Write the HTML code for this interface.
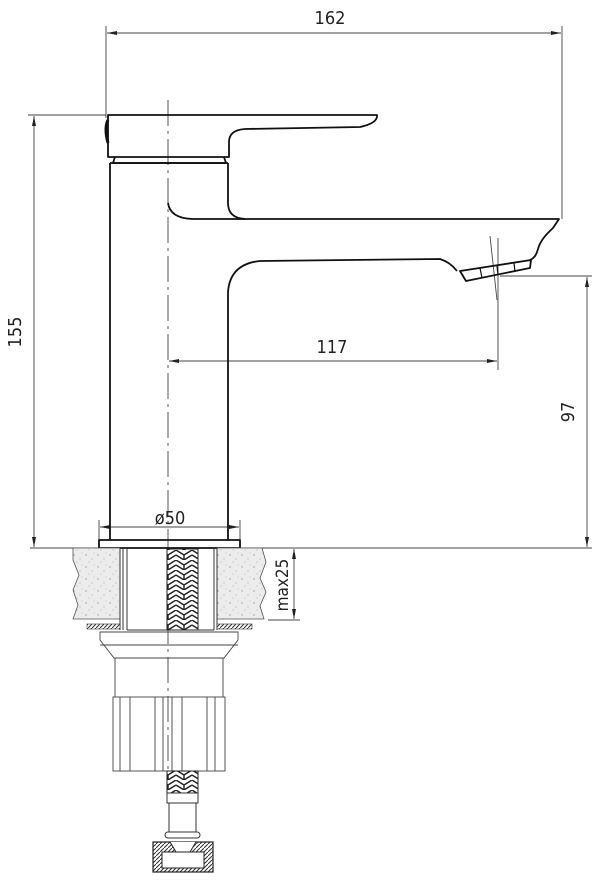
<!DOCTYPE html>
<html><head><meta charset="utf-8"><style>
html,body{margin:0;padding:0;background:#fff;}
svg{display:block;}
text{font-family:"DejaVu Sans Condensed","Liberation Sans",sans-serif;fill:#222;}
</style></head><body>
<svg width="600" height="883" viewBox="0 0 600 883" xmlns="http://www.w3.org/2000/svg">
<defs>
<pattern id="braid" width="16" height="10" patternUnits="userSpaceOnUse">
<rect width="16" height="10" fill="#fff"/>
<path d="M0,0 L8,5 L16,0 M0,5 L8,10 L16,5 M8,5 L8,10" stroke="#222" stroke-width="1.4" fill="none"/>
</pattern>
<pattern id="stone" width="12" height="12" patternUnits="userSpaceOnUse">
<rect width="12" height="12" fill="#ececec"/>
<circle cx="2" cy="3" r="0.7" fill="#999"/><circle cx="8" cy="7" r="0.6" fill="#aaa"/><circle cx="5" cy="10" r="0.5" fill="#999"/><circle cx="10" cy="1" r="0.5" fill="#aaa"/>
</pattern>
<pattern id="hatch" width="4" height="4" patternUnits="userSpaceOnUse">
<rect width="4" height="4" fill="#fff"/><path d="M0,4 L4,0" stroke="#333" stroke-width="1"/>
</pattern>
<marker id="ar" viewBox="0 0 10 6" refX="10" refY="3" markerWidth="10" markerHeight="6" orient="auto-start-reverse" markerUnits="userSpaceOnUse">
<path d="M0,1 L10,3 L0,5 Z" fill="#222"/></marker>
</defs>

<g stroke="#444" stroke-width="0.9" fill="none">
<line x1="106" y1="26" x2="106" y2="118"/><line x1="562" y1="26" x2="562" y2="219"/>
<line x1="107" y1="33" x2="561" y2="33" marker-start="url(#ar)" marker-end="url(#ar)"/>
<line x1="28" y1="115" x2="106" y2="115"/>
<line x1="34" y1="116" x2="34" y2="547" marker-start="url(#ar)" marker-end="url(#ar)"/>
<line x1="30" y1="548" x2="592" y2="548"/>
<line x1="500" y1="276" x2="592" y2="276"/>
<line x1="587" y1="277" x2="587" y2="547" marker-start="url(#ar)" marker-end="url(#ar)"/>
<line x1="498" y1="238" x2="498" y2="370"/>
<line x1="169" y1="361" x2="497" y2="361" marker-start="url(#ar)" marker-end="url(#ar)"/>
<line x1="490" y1="236" x2="497" y2="300"/>
<line x1="99" y1="520" x2="99" y2="540"/><line x1="240" y1="520" x2="240" y2="540"/>
<line x1="100" y1="527" x2="239" y2="527" marker-start="url(#ar)" marker-end="url(#ar)"/>
<line x1="268" y1="620" x2="300" y2="620"/>
<line x1="294" y1="549" x2="294" y2="619" marker-start="url(#ar)" marker-end="url(#ar)"/>
<line x1="168" y1="100" x2="168" y2="540" stroke-dasharray="26,5,3,5"/>
<line x1="168" y1="540" x2="168" y2="790" stroke-dasharray="26,5,3,5"/>
</g>

<g font-size="18">
<text x="330" y="24" text-anchor="middle">162</text>
<text x="332" y="353" text-anchor="middle">117</text>
<text x="170" y="524" text-anchor="middle">ø50</text>
<text transform="translate(21,332) rotate(-90)" text-anchor="middle">155</text>
<text transform="translate(574,412) rotate(-90)" text-anchor="middle">97</text>
<text transform="translate(288,585) rotate(-90)" text-anchor="middle" font-size="17">max25</text>
</g>

<g stroke="#111" stroke-width="1.8" fill="none" stroke-linejoin="round">
<path d="M108,115 L377,115 Q378,123 360,127 L245,129 Q229,130 229,142 L229,157 L108,157 Z"/>
<path d="M108,120 Q104,128 108,143" stroke-width="3"/>
<path d="M115,157 L113,163 L226,163 L224,157"/>
<path d="M110,163 L228,163"/>
<path d="M110,163 L110,540"/>
<path d="M228,163 L228,203 Q228,218 245,219 L559,219 L553,228 Q542,238 539,246 L537,252 Q535,258 530,260"/>
<path d="M168,203 Q170,218 192,219 L245,219"/>
<path d="M457,271 Q450,262 440,259 L260,261 Q230,264 228,292 L228,540"/>
<path d="M460,271 L531,260 L530,268 L466,281 Z"/>
<path d="M480,268 L482,278 M497,266 L498,275 M514,263 L515,272" stroke-width="1.2"/>
<rect x="99" y="540" width="141" height="8"/>
</g>

<path d="M73,548 L120,548 L120,619 L73,619 L78,605 L73,590 L79,575 L73,560 Z" fill="url(#stone)" stroke="#555" stroke-width="0.8"/>
<path d="M217,548 L262,548 L266,562 L260,578 L266,592 L260,606 L264,619 L217,619 Z" fill="url(#stone)" stroke="#555" stroke-width="0.8"/>
<g stroke="#333" stroke-width="1" fill="none">
<line x1="120" y1="548" x2="120" y2="630"/><line x1="123" y1="548" x2="123" y2="630"/><line x1="127" y1="548" x2="127" y2="630"/>
<line x1="214" y1="548" x2="214" y2="630"/><line x1="217" y1="548" x2="217" y2="630"/>
<line x1="127" y1="630" x2="214" y2="630"/>
</g>
<rect x="87" y="624" width="33" height="5" fill="url(#hatch)" stroke="#333" stroke-width="0.6"/>
<rect x="217" y="624" width="35" height="5" fill="url(#hatch)" stroke="#333" stroke-width="0.6"/>
<rect x="167" y="549" width="31" height="81" fill="url(#braid)" stroke="#222" stroke-width="1"/>

<g stroke="#444" stroke-width="0.9" fill="none">
<path d="M100,632 L238,632 L238,640 L224,658 L114,658 L100,640 Z"/>
<line x1="100" y1="645" x2="238" y2="645"/>
<path d="M115,658 L115,697 M223,658 L223,697"/>
<rect x="113" y="697" width="112" height="74"/>
<path d="M120,697 L120,771 M130,697 L130,771 M155,697 L155,771 M163,697 L163,771 M172,697 L172,771 M182,697 L182,771 M207,697 L207,771 M215,697 L215,771"/>
</g>
<rect x="167" y="771" width="31" height="22" fill="url(#braid)" stroke="#222" stroke-width="1"/>
<g stroke="#333" stroke-width="1" fill="none">
<rect x="167" y="793" width="31" height="10"/>
<rect x="169" y="803" width="27" height="29"/>
<rect x="165" y="832" width="35" height="6" rx="3"/>
</g>
<rect x="153" y="842" width="60" height="30" fill="url(#hatch)" stroke="#222" stroke-width="1.2"/>
<rect x="162" y="852" width="42" height="16" fill="#fff" stroke="#222" stroke-width="1"/>
<path d="M170,842 L176,852 L190,852 L196,842" fill="#fff" stroke="#222" stroke-width="1"/>
</svg>
</body></html>
